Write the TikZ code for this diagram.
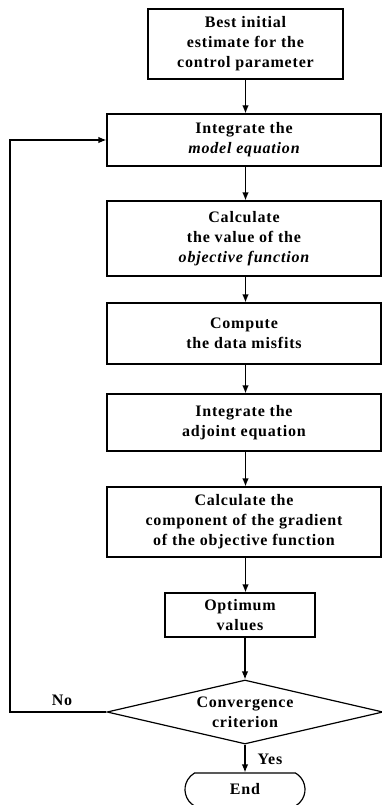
\documentclass[tikz,border=0pt]{standalone}
\usepackage{fontspec}
\setmainfont{Liberation Serif}[LetterSpace=5]
\usetikzlibrary{shapes.geometric,shapes.misc,arrows.meta}
\tikzset{
  box/.style={draw, line width=1.2pt, align=center, inner sep=0pt,
    font=\bfseries\fontsize{16}{20}\selectfont},
  lbl/.style={inner sep=0pt, align=center, font=\bfseries\fontsize{16}{20}\selectfont},
  arr/.style={-{Latex[length=8pt,width=6.5pt]}, line width=1.2pt},
}
\begin{document}
\begin{tikzpicture}[x=1pt,y=-1pt]
\useasboundingbox (0,0) rectangle (381,805);
\node[box, minimum width=195pt, minimum height=70pt] (b1) at (245.5,44) {Best initial\\estimate for the\\control parameter};
\node[box, minimum width=274pt, minimum height=52pt] (b2) at (244,140) {Integrate the\\{\itshape model equation}};
\node[box, minimum width=274pt, minimum height=75pt] (b3) at (244,238.5) {Calculate\\the value of the\\{\itshape objective function}};
\node[box, minimum width=274pt, minimum height=61pt] (b4) at (244,333.5) {Compute\\the data misfits};
\node[box, minimum width=274pt, minimum height=57pt] (b5) at (244,422.5) {Integrate the\\adjoint equation};
\node[box, minimum width=274pt, minimum height=70pt] (b6) at (244,522) {Calculate the\\component of the gradient\\of the objective function};
\node[box, minimum width=150pt, minimum height=44pt] (b7) at (240,615) {Optimum\\values};
\node[draw, diamond, line width=1.2pt, inner sep=0pt, minimum width=276pt, minimum height=64pt] (dia) at (245,712) {};
\node[lbl] (diat) at (dia.center) {Convergence\\criterion};
\node[box, rounded rectangle, rounded rectangle arc length=120, minimum width=120pt, minimum height=33pt] (endn) at (245,789.5) {End};
\coordinate (fb) at (10,0);
\node[lbl] (no) at (62,700) {No};
\node[lbl] (yes) at (270,759) {Yes};
\draw[arr] (b1.south) -- (b1.south |- b2.north);
\draw[arr] (b2.south -| b1.south) -- (b3.north -| b1.south);
\draw[arr] (b3.south -| b1.south) -- (b4.north -| b1.south);
\draw[arr] (b4.south -| b1.south) -- (b5.north -| b1.south);
\draw[arr] (b5.south -| b1.south) -- (b6.north -| b1.south);
\draw[arr] (b6.south -| b1.south) -- (b7.north -| b1.south);
\draw[arr] (b7.south -| dia.north) -- (dia.north);
\draw[arr] (dia.south) -- (endn.north);
\draw[arr] (dia.west) -| (fb |- b2.west) -- (b2.west);
\end{tikzpicture}
\end{document}
